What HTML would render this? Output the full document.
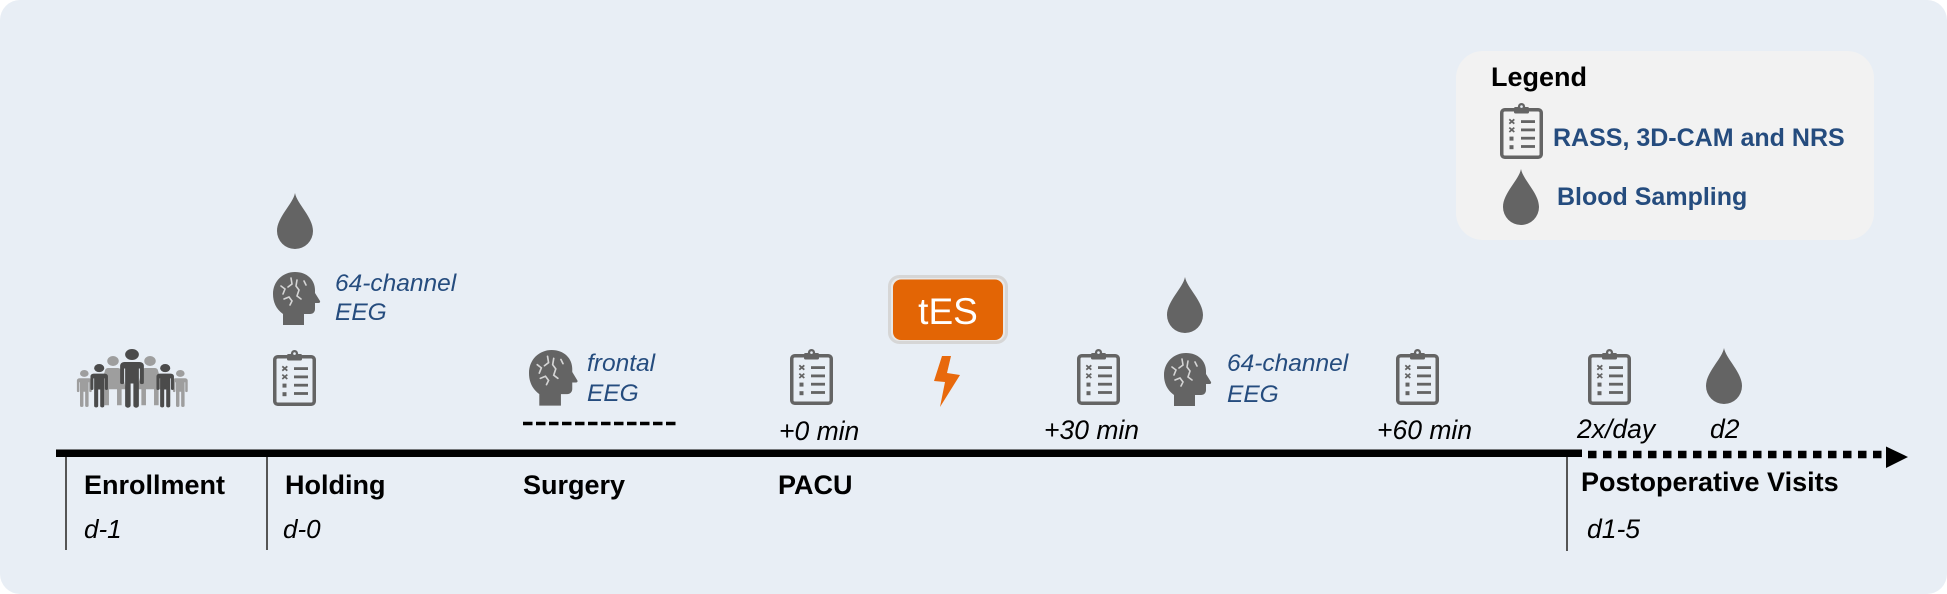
<!DOCTYPE html>
<html>
<head>
<meta charset="utf-8">
<style>
  html, body { margin: 0; padding: 0; background: #ffffff; }
  body { width: 1947px; height: 594px; overflow: hidden; }
  svg { display: block; }
  .b { font-family: "Liberation Sans", Arial, sans-serif; font-weight: bold; fill: #000; }
  .i { font-family: "Liberation Sans", Arial, sans-serif; font-style: italic; fill: #000; }
  .n { font-family: "Liberation Sans", Arial, sans-serif; font-style: italic; fill: #254c7e; }
  .lg { font-family: "Liberation Sans", Arial, sans-serif; font-weight: bold; fill: #254c7e; }
</style>
</head>
<body>
<svg width="1947" height="594" viewBox="0 0 1947 594" xmlns="http://www.w3.org/2000/svg">
  <defs>
    <g id="drop">
      <path d="M18,0 C16,11 0,24 0,38 A18,18 0 0 0 36,38 C36,24 20,11 18,0 Z" fill="#646464"/>
    </g>
    <g id="clip">
      <rect x="1.75" y="6.75" width="39.5" height="47.5" rx="3" fill="none" stroke="#646464" stroke-width="3.5"/>
      <rect x="14" y="4" width="15" height="6.5" rx="1.5" fill="#646464"/>
      <circle cx="21.5" cy="3.6" r="3.6" fill="#646464"/>
      <circle cx="21.5" cy="3.6" r="1.3" fill="#e8eef5"/>
      <path d="M9.3,16.3 l5,4.4 m0,-4.4 l-5,4.4 M9.3,24.6 l5,4.4 m0,-4.4 l-5,4.4" stroke="#646464" stroke-width="1.7" fill="none"/>
      <rect x="9.5" y="33.6" width="4" height="4" fill="#646464"/>
      <rect x="9.5" y="42.2" width="4" height="4" fill="#646464"/>
      <rect x="21" y="17.2" width="14" height="2.8" fill="#646464"/>
      <rect x="21" y="25.5" width="14" height="2.8" fill="#646464"/>
      <rect x="21" y="33.8" width="14" height="2.8" fill="#646464"/>
      <rect x="21" y="42.1" width="14" height="2.8" fill="#646464"/>
    </g>
    <g id="head">
      <path d="M10,53 L10,42 C3,37 0,30 0,22 C0,9 10,0 22,0 C34,0 42,8 42,18 L42,21 L47,29 C47.5,30.5 46.5,31 45,31 L42,31 L42,37 C42,40 40,42 37,42 L31,42 L31,53 Z" fill="#646464"/>
      <path d="M8,14 L12,17 L10,22 M18,6 L19,12 L15,15 M24,8 L23,14 L26,18 L24,24 L28,27 M31,9 L33,13 M11,27 L16,25 L19,29 L17,33" stroke="#d5d5d5" stroke-width="1.6" fill="none" stroke-linecap="round"/>
    </g>
    <g id="man">
      <circle cx="10" cy="5.5" r="5.5"/>
      <path d="M4,13 h12 a3.5,3.5 0 0 1 3.5,3.5 v17 a1.6,1.6 0 0 1 -3.2,0 v-14 h-0.8 v37 a2.2,2.2 0 0 1 -4.4,0 v-22 h-2.2 v22 a2.2,2.2 0 0 1 -4.4,0 v-37 h-0.8 v14 a1.6,1.6 0 0 1 -3.2,0 v-17 a3.5,3.5 0 0 1 3.5,-3.5 z"/>
    </g>
    <g id="woman">
      <circle cx="10" cy="5" r="5"/>
      <path d="M6,12 h8 a3,3 0 0 1 2.9,2.3 l4.6,19 h-4 v16 h-4 v-16 h-7 v16 h-4 v-16 h-4 l4.6,-19 a3,3 0 0 1 2.9,-2.3 z"/>
    </g>
  </defs>

  <!-- card background -->
  <rect x="0" y="0" width="1947" height="594" rx="20" ry="20" fill="#e8eef5"/>

  <!-- legend box -->
  <rect x="1456" y="51" width="418" height="189" rx="27" ry="27" fill="#f2f2f2"/>
  <text class="b" x="1491" y="86" font-size="27">Legend</text>
  <use href="#clip" x="1500" y="103"/>
  <text class="lg" x="1553" y="146" font-size="25">RASS, 3D-CAM and NRS</text>
  <use href="#drop" x="1503" y="169"/>
  <text class="lg" x="1557" y="205" font-size="25">Blood Sampling</text>

  <!-- people group -->
  <g fill="#9e9e9e">
    <use href="#man" transform="translate(76.5,370) scale(0.78,0.63)"/>
    <use href="#man" transform="translate(172.5,370) scale(0.78,0.63)"/>
    <use href="#woman" transform="translate(101.5,356) scale(1.15,1)"/>
    <use href="#woman" transform="translate(138.5,356) scale(1.15,1)"/>
  </g>
  <g fill="#4b4b4b">
    <use href="#man" transform="translate(90,364) scale(0.92,0.74)"/>
    <use href="#man" transform="translate(156,364) scale(0.92,0.74)"/>
    <use href="#man" transform="translate(119.5,349) scale(1.25,1)"/>
  </g>

  <!-- Holding column -->
  <use href="#drop" x="277" y="193"/>
  <use href="#head" x="273" y="272"/>
  <text class="n" x="335" y="291" font-size="24.5">64-channel</text>
  <text class="n" x="335" y="320" font-size="24.5">EEG</text>
  <use href="#clip" x="273" y="350"/>

  <!-- Surgery -->
  <use href="#head" transform="translate(529,350) scale(1.03,1.05)"/>
  <text class="n" x="587" y="371" font-size="24.5">frontal</text>
  <text class="n" x="587" y="401" font-size="24.5">EEG</text>
  <line x1="523" y1="423.5" x2="678" y2="423.5" stroke="#000" stroke-width="3.6" stroke-dasharray="9.5 3.5"/>

  <!-- PACU -->
  <use href="#clip" x="790" y="349"/>
  <text class="i" x="779" y="440" font-size="26.5">+0 min</text>

  <!-- tES -->
  <rect x="889.5" y="276.5" width="117" height="66" rx="10" ry="10" fill="#e8e8e8" stroke="#d6d6d6" stroke-width="3"/>
  <rect x="893" y="279.5" width="110" height="60.5" rx="8" ry="8" fill="#e36505"/>
  <text x="948" y="324" font-family="Liberation Sans, Arial, sans-serif" font-size="37" fill="#ffffff" text-anchor="middle">tES</text>
  <polygon points="942,356 951,356 947,373 960,375 940,407 945,382 934,381" fill="#e8690c"/>

  <use href="#clip" x="1077" y="349"/>
  <text class="i" x="1044" y="439" font-size="26.5">+30 min</text>

  <use href="#drop" x="1167" y="277"/>
  <use href="#head" x="1164" y="353"/>
  <text class="n" x="1227" y="371" font-size="24.5">64-channel</text>
  <text class="n" x="1227" y="402" font-size="24.5">EEG</text>

  <use href="#clip" x="1396" y="349"/>
  <text class="i" x="1377" y="439" font-size="26.5">+60 min</text>

  <!-- Postoperative -->
  <use href="#clip" x="1588" y="349"/>
  <text class="i" x="1577" y="438" font-size="26.5">2x/day</text>
  <use href="#drop" x="1706" y="348"/>
  <text class="i" x="1710" y="438" font-size="26.5">d2</text>

  <!-- timeline -->
  <rect x="56" y="449.5" width="1526" height="7.5" fill="#000"/>
  <line x1="1588" y1="454.5" x2="1887" y2="454.5" stroke="#000" stroke-width="7.5" stroke-dasharray="8.5 6.5"/>
  <polygon points="1886,446.5 1908,457 1886,468" fill="#000"/>

  <!-- vertical separators -->
  <line x1="66" y1="457" x2="66" y2="550" stroke="#555" stroke-width="2"/>
  <line x1="267" y1="457" x2="267" y2="550" stroke="#555" stroke-width="2"/>
  <line x1="1567" y1="457" x2="1567" y2="551" stroke="#555" stroke-width="2"/>

  <!-- phase labels -->
  <text class="b" x="84" y="494" font-size="27">Enrollment</text>
  <text class="i" x="84" y="538" font-size="26">d-1</text>
  <text class="b" x="285" y="494" font-size="27">Holding</text>
  <text class="i" x="283" y="538" font-size="26">d-0</text>
  <text class="b" x="523" y="494" font-size="27">Surgery</text>
  <text class="b" x="778" y="494" font-size="27">PACU</text>
  <text class="b" x="1581" y="491" font-size="27">Postoperative Visits</text>
  <text class="i" x="1587" y="538" font-size="26.5">d1-5</text>
</svg>
</body>
</html>
